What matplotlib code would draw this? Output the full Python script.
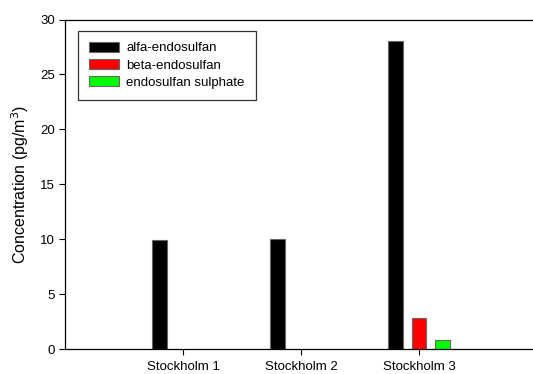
import numpy as np
import matplotlib
matplotlib.use("Agg")
import matplotlib.pyplot as plt

plt.rcParams['font.family'] = ['Liberation Sans', 'DejaVu Sans']

sites = ["Stockholm 1", "Stockholm 2", "Stockholm 3"]
alfa = [9.9, 10.0, 28.0]
beta = [0.0, 0.0, 2.8]
sulphate = [0.0, 0.0, 0.8]
series_names = ["alfa-endosulfan", "beta-endosulfan", "endosulfan sulphate"]
series_colors = ["#000000", "#ff0000", "#00ff00"]

fig = plt.figure(figsize=(5.33, 3.74), dpi=100)
# axes box in pixels: left 65, bottom 349, top 19.5, right beyond edge
ax = fig.add_axes([65 / 533, (374 - 349) / 374, 1 - 65 / 533, (349 - 19.5) / 374])

x = np.arange(1, len(sites) + 1)
width = 0.125
offsets = [-0.2, 0.0, 0.2]
for vals, name, col, off in zip([alfa, beta, sulphate], series_names, series_colors, offsets):
    keep = [i for i, v in enumerate(vals) if v > 0]
    ax.bar(x[keep] + off, np.array(vals)[keep], width=width, color=col,
           edgecolor="#666666", linewidth=0.8, label=name)

ax.set_xlim(0, 468 / 118)
ax.set_ylim(0, 30)
ax.set_xticks(x)
ax.set_xticklabels(sites)
ax.set_yticks(range(0, 31, 5))
ax.tick_params(axis="both", direction="out", length=4, width=0.8, labelsize=9.5, colors="black")
ax.tick_params(axis="x", pad=5)
ax.tick_params(axis="y", pad=3)
ax.spines["right"].set_visible(False)
for s in ["left", "bottom", "top"]:
    ax.spines[s].set_linewidth(0.9)

ax.set_ylabel("Concentration (pg/m$^3$)", fontsize=11.5, labelpad=7)

leg = ax.legend(loc="upper left", bbox_to_anchor=(12.5 / 468, 1 - 11 / 329.5),
                fontsize=9.5, frameon=True, fancybox=False, edgecolor="black",
                handlelength=2.3, handleheight=0.8, handletextpad=0.55,
                labelspacing=0.35, borderpad=0.85, borderaxespad=0)
leg.get_frame().set_linewidth(0.9)
leg.get_frame().set_boxstyle("square", pad=0.0)

fig.savefig("out.png", dpi=100)
